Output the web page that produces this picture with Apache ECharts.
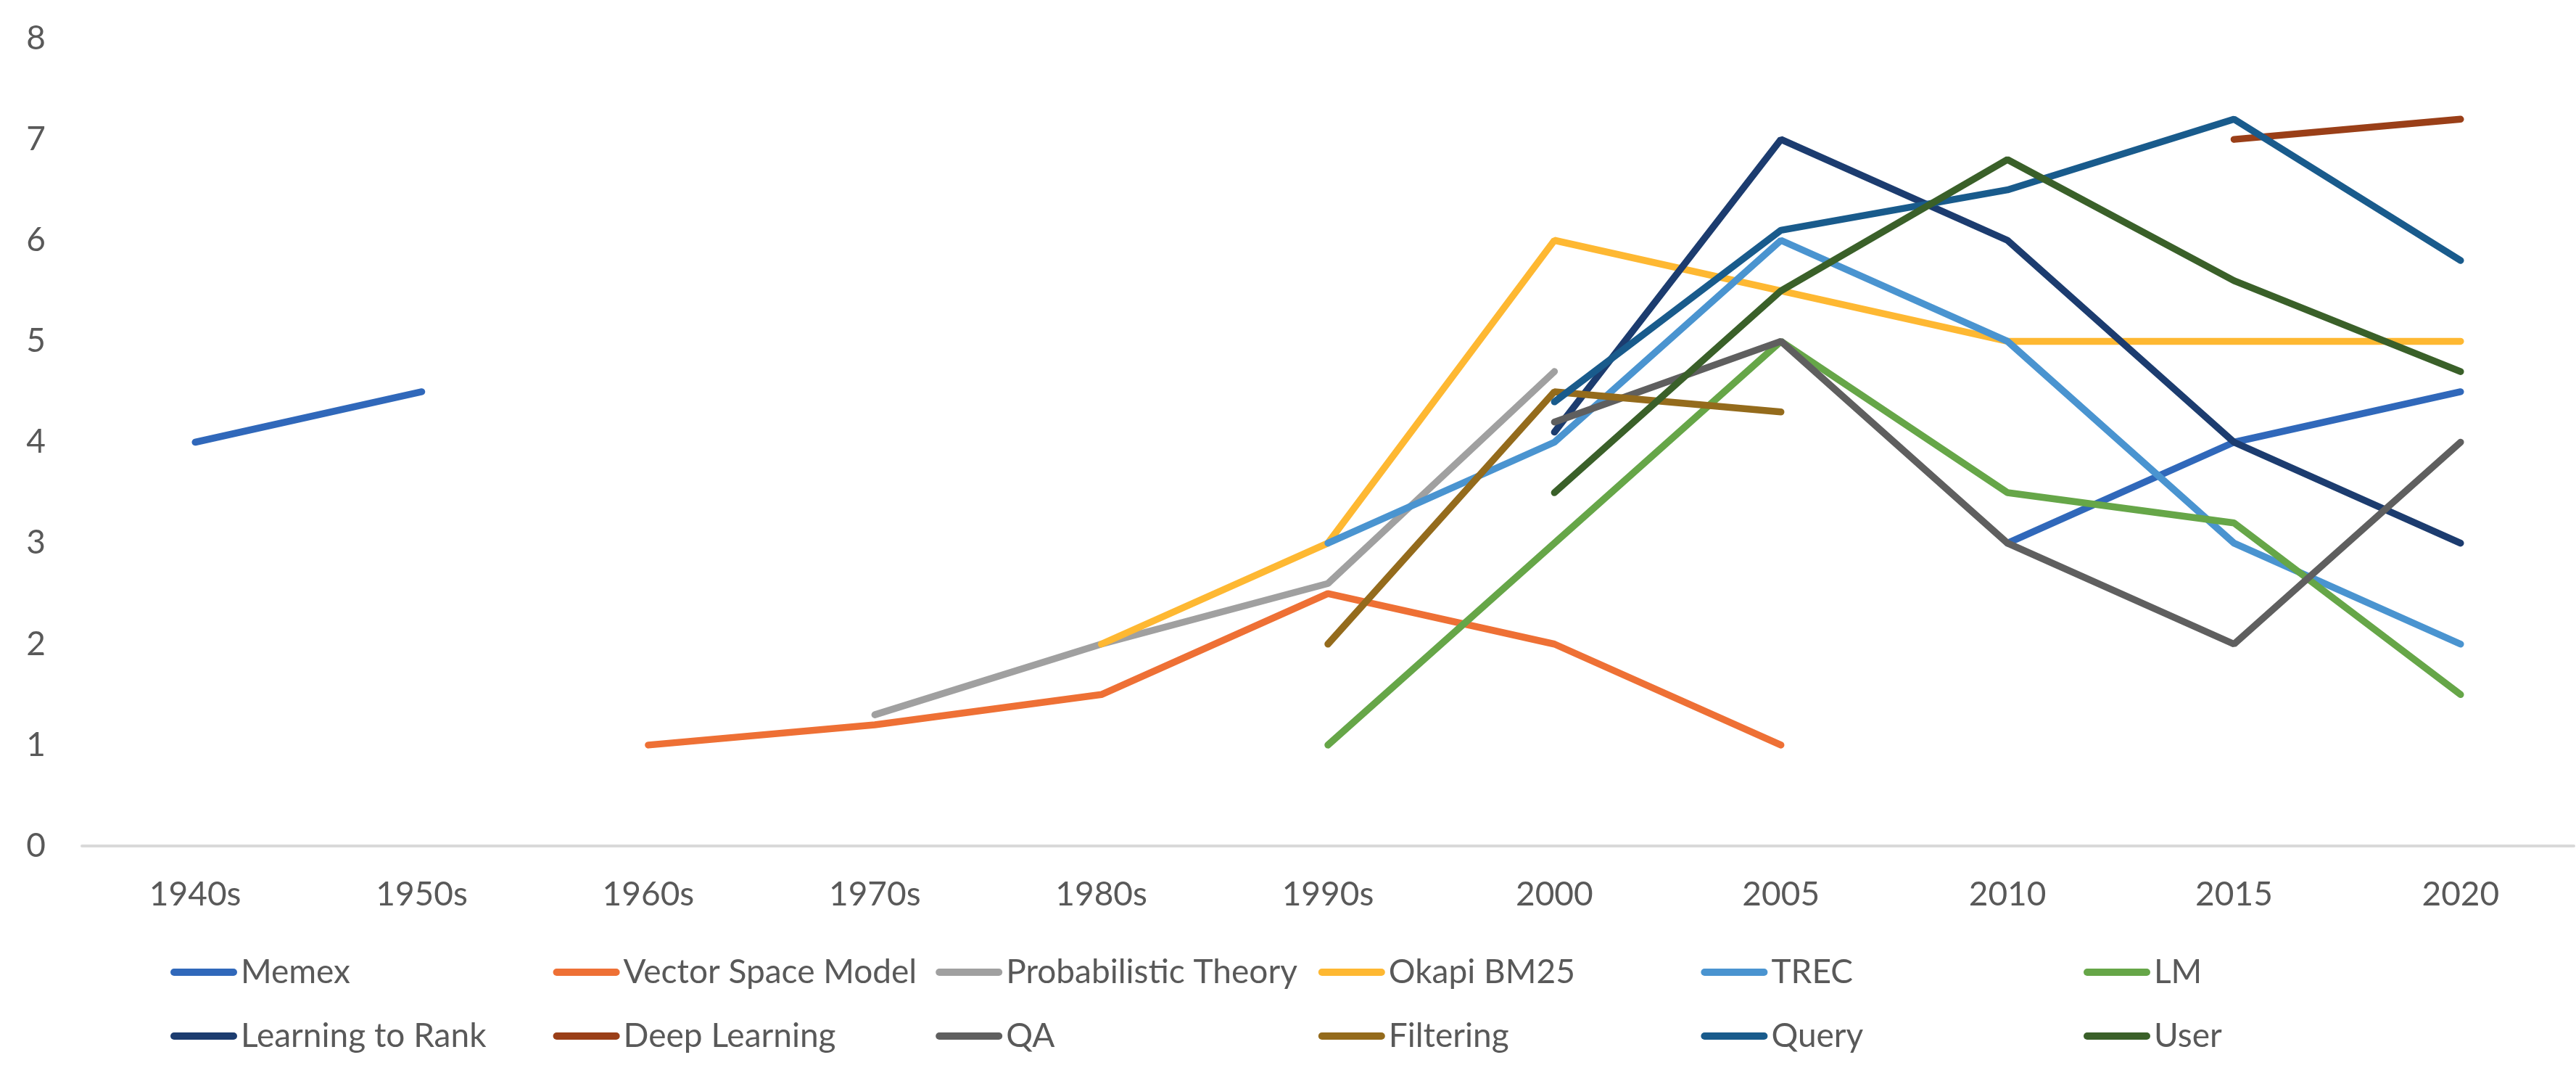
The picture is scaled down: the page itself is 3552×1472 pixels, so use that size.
<!DOCTYPE html>
<html>
<head>
<meta charset="utf-8">
<script src="https://cdn.jsdelivr.net/npm/echarts@6/dist/echarts.min.js"></script>
<style>
  html, body { margin: 0; padding: 0; background: #fff; }
  #chart { width: 3552px; height: 1472px; }
</style>
</head>
<body>
<div id="chart"></div>
<script>
// categories on the x axis
const years = ['1940s', '1950s', '1960s', '1970s', '1980s', '1990s', '2000', '2005', '2010', '2015', '2020'];
const yTicks = [0, 1, 2, 3, 4, 5, 6, 7, 8];

// one array per topic, null where the topic has no point
const memex       = [4, 4.5, null, null, null, null, null, null, 3, 4, 4.5];
const vectorSpace = [null, null, 1, 1.2, 1.5, 2.5, 2, 1, null, null, null];
const probTheory  = [null, null, null, 1.3, 2, 2.6, 4.7, null, null, null, null];
const okapi       = [null, null, null, null, 2, 3, 6, 5.5, 5, 5, 5];
const trec        = [null, null, null, null, null, 3, 4, 6, 5, 3, 2];
const lm          = [null, null, null, null, null, 1, 3, 5, 3.5, 3.2, 1.5];
const l2r         = [null, null, null, null, null, null, 4.1, 7, 6, 4, 3];
const deepLearn   = [null, null, null, null, null, null, null, null, null, 7, 7.2];
const qa          = [null, null, null, null, null, null, 4.2, 5, 3, 2, 4];
const filtering   = [null, null, null, null, null, 2, 4.5, 4.3, null, null, null];
const query       = [null, null, null, null, null, null, 4.4, 6.1, 6.5, 7.2, 5.8];
const user        = [null, null, null, null, null, null, 3.5, 5.5, 6.8, 5.6, 4.7];

const names  = ['Memex', 'Vector Space Model', 'Probabilistic Theory', 'Okapi BM25', 'TREC', 'LM',
                'Learning to Rank', 'Deep Learning', 'QA', 'Filtering', 'Query', 'User'];
const values = [memex, vectorSpace, probTheory, okapi, trec, lm, l2r, deepLearn, qa, filtering, query, user];
const colors = ['#3068BA', '#EE7035', '#A0A0A0', '#FEB832', '#4A94D0', '#66A648',
                '#1C3C6F', '#9A3F18', '#5F5F5F', '#946B1C', '#195B8C', '#3A6029'];

const font = 'Lato, "Open Sans", sans-serif';
const textGray = '#595959';
const lineIcon = 'path://M5,0 L87,0 A5,5 0 0 1 87,10 L5,10 A5,5 0 0 1 5,0 Z';

let myChart = echarts.init(document.getElementById('chart'));

// legend laid out as a 6 x 2 grid of equal columns
let legends = names.map(function (n, i) {
    return {
        data: [n],
        left: 230 + (i % 6) * 527.6,
        top: i < 6 ? 1312 : 1400,
        icon: lineIcon,
        itemWidth: 92,
        itemHeight: 10,
        selectedMode: false,
        textStyle: { fontFamily: font, fontSize: 46, color: textGray }
    };
});

let option = {
    backgroundColor: '#ffffff',
    animation: false,
    color: colors,
    legend: legends,
    grid: { left: 113, right: 3, top: 53, bottom: 306, containLabel: false },
    xAxis: {
        type: 'category',
        data: years,
        boundaryGap: true,
        axisTick: { show: false },
        axisLine: { lineStyle: { color: '#D9D9D9', width: 4 } },
        axisLabel: { fontFamily: font, fontSize: 46, color: textGray, margin: 44 }
    },
    yAxis: {
        type: 'value',
        min: yTicks[0],
        max: yTicks[yTicks.length - 1],
        interval: 1,
        splitLine: { show: false },
        axisLine: { show: false },
        axisTick: { show: false },
        axisLabel: { fontFamily: font, fontSize: 46, color: textGray, margin: 50 }
    },
    series: names.map(function (n, i) {
        return {
            name: n,
            type: 'line',
            data: values[i],
            showSymbol: false,
            symbol: 'none',
            connectNulls: false,
            lineStyle: { width: 9.5, color: colors[i], cap: 'round' },
            itemStyle: { color: colors[i] }
        };
    })
};

myChart.setOption(option);
</script>
</body>
</html>
